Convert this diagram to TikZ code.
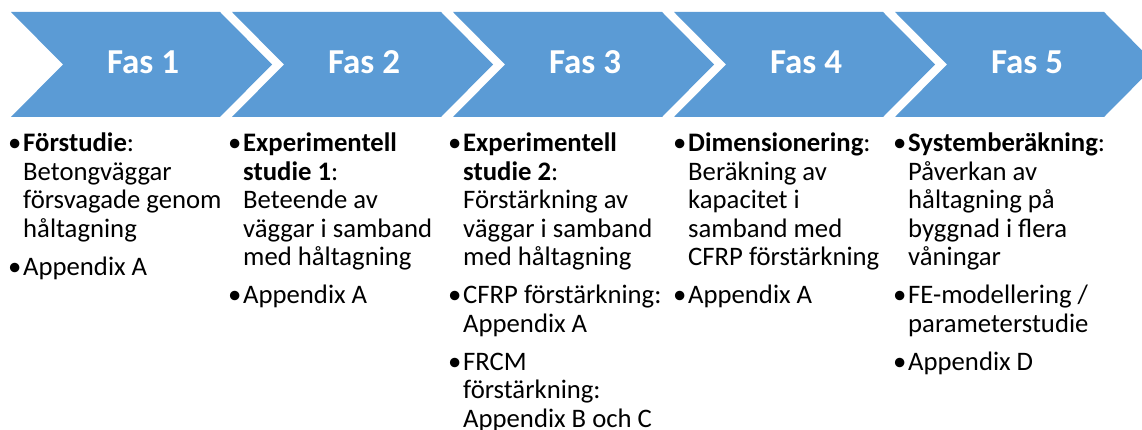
\documentclass[tikz,border=0pt]{standalone}
\usepackage{fontspec}
\setmainfont{Carlito}
\definecolor{chevblue}{HTML}{5B9BD5}
\newcommand{\bul}{\llap{\makebox[15pt][l]{•}}}
\newcommand{\pgap}{\\[9.5pt]}
\newcommand{\coltext}[1]{\begin{tabular}[t]{@{}l@{}}#1\end{tabular}}
\begin{document}
\begin{tikzpicture}[x=1pt,y=-1pt,
  chev/.style={fill=chevblue,draw=none},
  fas/.style={text=white,font=\fontsize{35}{40}\selectfont\bfseries,inner sep=0pt,anchor=base},
  col/.style={anchor=base west,inner sep=0pt,font=\fontsize{26.7}{28.5}\selectfont}]
\useasboundingbox (0,0) rectangle (1142,430);
\begin{scope}
\clip (0,0) rectangle (1142,430);
\foreach \k in {0,...,4}{
  \pgfmathsetmacro{\L}{11+221*\k}
  \pgfmathsetmacro{\R}{\L+209}
  \fill[chev] (\L,12) -- (\R,12) -- (\R+52,64.5) -- (\R,117) -- (\L,117) -- (\L+52,64.5) -- cycle;
}
\end{scope}
\node[fas] (f1) at (143,74) {Fas 1};
\node[fas] (f2) at (364,74) {Fas 2};
\node[fas] (f3) at (585,74) {Fas 3};
\node[fas] (f4) at (806,74) {Fas 4};
\node[fas] (f5) at (1027,74) {Fas 5};

\node[col] (c1) at (23,152) {\coltext{\bul\textbf{Förstudie}:\\ Betongväggar\\ försvagade genom\\ håltagning\pgap \bul Appendix A}};
\node[col] (c2) at (243,152) {\coltext{\bul\textbf{Experimentell}\\ \textbf{studie 1}:\\ Beteende av\\ väggar i samband\\ med håltagning\pgap \bul Appendix A}};
\node[col] (c3) at (463,152) {\coltext{\bul\textbf{Experimentell}\\ \textbf{studie 2}:\\ Förstärkning av\\ väggar i samband\\ med håltagning\pgap \bul CFRP förstärkning:\\ Appendix A\pgap \bul FRCM\\ förstärkning:\\ Appendix B och C}};
\node[col] (c4) at (688,152) {\coltext{\bul\textbf{Dimensionering}:\\ Beräkning av\\ kapacitet i\\ samband med\\ CFRP förstärkning\pgap \bul Appendix A}};
\node[col] (c5) at (908,152) {\coltext{\bul\textbf{Systemberäkning}:\\ Påverkan av\\ håltagning på\\ byggnad i flera\\ våningar\pgap \bul FE-modellering /\\ parameterstudie\pgap \bul Appendix D}};
\end{tikzpicture}
\end{document}
